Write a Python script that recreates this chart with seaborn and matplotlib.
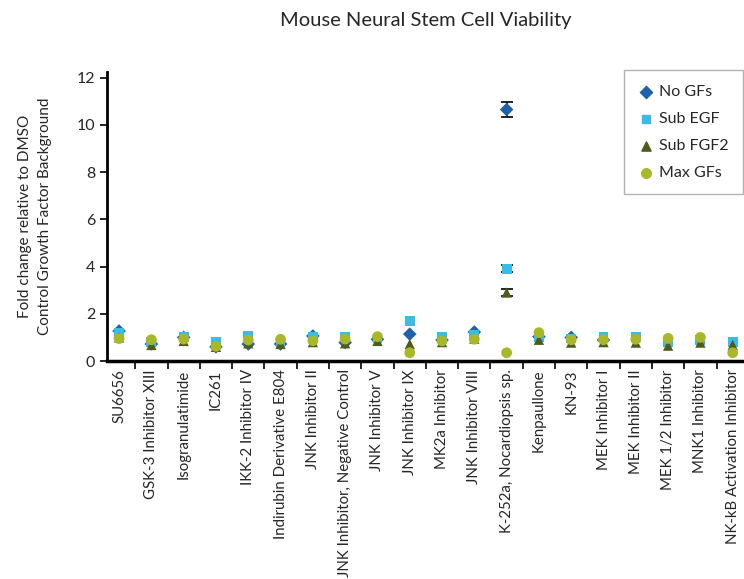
import numpy as np
import pandas as pd
import matplotlib
matplotlib.use("Agg")
import matplotlib.pyplot as plt
import seaborn as sns
from matplotlib.ticker import FixedLocator

COMPOUNDS = [
    "SU6656", "GSK-3 Inhibitor XIII", "Isogranulatimide", "IC261",
    "IKK-2 Inhibitor IV", "Indirubin Derivative E804", "JNK Inhibitor II",
    "JNK Inhibitor, Negative Control", "JNK Inhibitor V", "JNK Inhibitor IX",
    "MK2a Inhibitor", "JNK Inhibitor VIII", "K-252a, Nocardiopsis sp.",
    "Kenpaullone", "KN-93", "MEK Inhibitor I", "MEK Inhibitor II",
    "MEK 1/2 Inhibitor", "MNK1 Inhibitor", "NK-kB Activation Inhibitor",
]
SERIES = ["No GFs", "Sub EGF", "Sub FGF2", "Max GFs"]

no_gfs   = [1.27, 0.72, 1.00, 0.60, 0.72, 0.72, 1.06, 0.78, 0.92, 1.14,
            0.89, 1.23, 10.65, 1.03, 1.00, 0.89, np.nan, np.nan, np.nan, np.nan]
sub_egf  = [1.18, 0.80, 1.03, 0.82, 1.06, 0.80, 1.00, 1.00, 0.95, 1.71,
            1.00, 1.10, 3.90, 1.00, 0.95, 1.00, 1.00, 0.82, 0.90, 0.82]
sub_fgf2 = [1.00, 0.68, 0.85, 0.60, 0.75, 0.72, 0.80, 0.75, 0.85, 0.72,
            0.80, 0.95, 2.90, 0.90, 0.78, 0.80, 0.78, 0.65, 0.78, 0.68]
max_gfs  = [0.95, 0.90, 0.93, 0.62, 0.89, 0.92, 0.86, 0.93, 1.03, 0.35,
            0.85, 0.92, 0.35, 1.20, 0.90, 0.90, 0.92, 0.96, 1.00, 0.35]

err_no   = [0] * 12 + [0.30] + [0] * 7
err_egf  = [0] * 12 + [0.15] + [0] * 7
err_fgf2 = [0] * 12 + [0.15] + [0] * 7
err_max  = [0] * 20

values = [no_gfs, sub_egf, sub_fgf2, max_gfs]
errors = [err_no, err_egf, err_fgf2, err_max]
colors = ["#1F62AA", "#3BBCE6", "#4E5B1C", "#A9B829"]
markers = ["D", "s", "^", "o"]
sizes = [48, 50, 55, 60]

rows = []
for name, vals, errs in zip(SERIES, values, errors):
    for i, (v, e) in enumerate(zip(vals, errs)):
        rows.append({"pos": i, "compound": COMPOUNDS[i], "series": name,
                     "value": v, "err": e})
df = pd.DataFrame(rows)

sns.set_theme(style="white")
plt.rcParams["font.family"] = ["Lato", "DejaVu Sans"]

fig = plt.figure(figsize=(7.44, 5.79), dpi=100)
ax = fig.add_axes([0.144, 0.3765, 0.856, 0.4995])

# draw order: square, triangle, circle, diamond on top
for idx in [1, 2, 3, 0]:
    name = SERIES[idx]
    sub = df[df["series"] == name].dropna(subset=["value"])
    sns.scatterplot(data=sub, x="pos", y="value", marker=markers[idx],
                    color=colors[idx], s=sizes[idx], edgecolor="none",
                    ax=ax, zorder=3 + idx, legend=False)
    eb = sub[sub["err"] > 0]
    if len(eb):
        ax.errorbar(eb["pos"], eb["value"], yerr=eb["err"], fmt="none",
                    ecolor="black", elinewidth=1.2, capsize=4, capthick=1.2,
                    zorder=2)

# legend proxies
for idx, name in enumerate(SERIES):
    ax.scatter([], [], marker=markers[idx], color=colors[idx],
               s=sizes[idx] * 0.8, label=name)
leg = ax.legend(loc="upper right", bbox_to_anchor=(0.998, 1.005),
                fontsize=11.5, frameon=True, fancybox=False,
                borderpad=0.9, labelspacing=0.8, handletextpad=0.3,
                handlelength=1.0, borderaxespad=0)
leg.get_frame().set_edgecolor("#A0A0A0")
leg.get_frame().set_linewidth(1.0)

ax.set_xlim(-0.37, 19.35)
ax.set_ylim(0, 12.25)
ax.set_yticks(range(0, 13, 2))
ax.set_xticks(range(len(COMPOUNDS)))
ax.set_xticklabels(COMPOUNDS, rotation=90, fontsize=10.8)
ax.xaxis.set_minor_locator(FixedLocator(np.arange(0.5, 19, 1.0)))
ax.tick_params(axis="x", which="major", length=0, pad=6)
ax.tick_params(axis="x", which="minor", length=6, width=1.2,
               color="black", direction="out", bottom=True)
ax.tick_params(axis="y", length=5, width=1.2, color="black",
               direction="out", left=True, labelsize=11.5)

for side in ["top", "right"]:
    ax.spines[side].set_visible(False)
ax.spines["left"].set_linewidth(2)
ax.spines["bottom"].set_linewidth(2.5)
ax.spines["left"].set_color("black")
ax.spines["bottom"].set_color("black")

ax.set_xlabel("")
ax.set_ylabel("Fold change relative to DMSO\nControl Growth Factor Background",
              fontsize=11, labelpad=18, linespacing=1.5)
ax.set_title("Mouse Neural Stem Cell Viability", fontsize=14.5, pad=33)

plt.savefig("out.png", dpi=100)
